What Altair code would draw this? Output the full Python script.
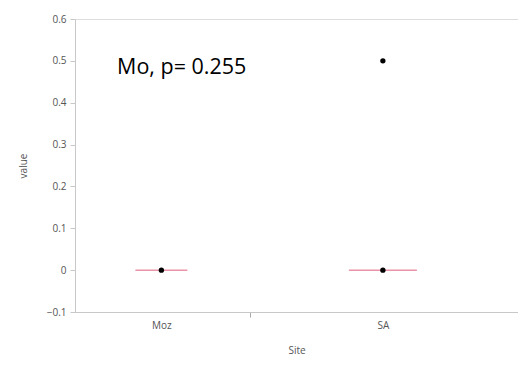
import altair as alt
import pandas as pd

sites = ["Moz", "SA", "SA"]
site_pos = [0, 1, 1]
values = [0.0, 0.0, 0.5]

line_sites = ["Moz", "SA"]
line_pos = [0, 1]
line_values = [0.0, 0.0]
line_len = [52, 68]

annot_text = ["Mo, p= 0.255"]
annot_x = [-0.2]
annot_y = [0.469]

pts = pd.DataFrame({"site": sites, "pos": site_pos, "value": values})
lines = pd.DataFrame({"site": line_sites, "pos": line_pos, "value": line_values, "len": line_len})
ann = pd.DataFrame({"t": annot_text, "x": annot_x, "y": annot_y})

xscale = alt.Scale(domain=[-0.39, 1.61], nice=False, zero=False)
yscale = alt.Scale(domain=[-0.1, 0.6], nice=False, zero=False)

lab_font = "Open Sans"
xaxis = alt.Axis(
    values=[0, 0.4, 1],
    labelExpr="datum.value == 0 ? 'Moz' : (datum.value == 1 ? 'SA' : '')",
    tickColor=alt.expr("datum.value == 0.4 ? '#aaaaaa' : 'transparent'"),
    grid=False, domainColor="#c8c8c8", tickSize=5,
    labelFont=lab_font, labelFontSize=10, labelColor="#555555",
    titleFont=lab_font, titleFontSize=10, titleColor="#555555", titleFontWeight="normal",
    labelPadding=3, titlePadding=15,
)
yaxis = alt.Axis(
    values=[-0.1, 0, 0.1, 0.2, 0.3, 0.4, 0.5, 0.6],
    labelExpr="datum.value == 0 ? '0' : format(datum.value, '.1f')",
    grid=False, domainColor="#c8c8c8", tickColor="#c8c8c8", tickSize=5,
    labelFont=lab_font, labelFontSize=10, labelColor="#555555",
    titleFont=lab_font, titleFontSize=10, titleColor="#555555", titleFontWeight="normal",
    labelPadding=4, titlePadding=18,
)

base_x = alt.X("pos:Q", scale=xscale, axis=xaxis, title="Site")
base_y = alt.Y("value:Q", scale=yscale, axis=yaxis, title="value")

ticks = alt.Chart(lines).mark_tick(orient="horizontal", color="#e8889f", thickness=1.5, opacity=0.9).encode(
    x=base_x, y=base_y, size=alt.Size("len:Q", scale=None, legend=None)
)
points = alt.Chart(pts).mark_circle(color="black", opacity=1, size=28).encode(x=base_x, y=base_y)
text = alt.Chart(ann).mark_text(align="left", baseline="alphabetic", font=lab_font, fontSize=21.5, color="black").encode(
    x=alt.X("x:Q", scale=xscale), y=alt.Y("y:Q", scale=yscale), text="t:N"
)

chart = alt.layer(ticks, points, text).properties(
    width=443, height=293,
    autosize=alt.AutoSizeParams(type="none"),
    padding={"left": 67, "top": 11, "right": 0, "bottom": 52},
).configure_view(stroke="#d8d8d8", strokeWidth=1).configure(background="white")

chart.save("out.html", embed_options={"renderer": "svg", "actions": False})
